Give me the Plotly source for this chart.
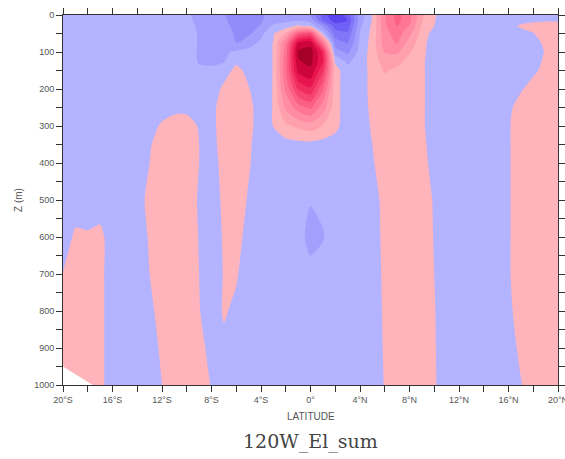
import plotly.graph_objects as go

# Latitude (deg, negative = south) and depth (m) of the section grid
lat = list(range(-20, 21))
depth = [0, 15, 30, 50, 75, 100, 125, 150, 175, 200, 250, 300, 350, 400,
         500, 600, 700, 800, 900, 1000]

# Anomaly field along 120W: one row per depth, one column per latitude (-20 .. 20)
anom = [
    # 0 m
    [-0.06, -0.06, -0.06, -0.06, -0.06, -0.06, -0.06, -0.06, -0.06, -0.06,
     -0.08, -0.14, -0.17, -0.19, -0.26, -0.27, -0.22, -0.15, -0.16, -0.15,
     -0.20,
     -0.45, -0.60, -0.45, -0.15, 0.005, 0.28, 0.44, 0.33, 0.12, 0.01,
     -0.05, -0.06, -0.06, -0.06, -0.06, -0.06, -0.05, -0.04, -0.03, -0.03],
    # 15 m
    [-0.06, -0.06, -0.06, -0.06, -0.06, -0.06, -0.06, -0.06, -0.06, -0.06,
     -0.07, -0.13, -0.15, -0.18, -0.25, -0.26, -0.21, -0.14, -0.12, -0.105,
     -0.14,
     -0.40, -0.55, -0.50, -0.15, 0.01, 0.29, 0.43, 0.33, 0.105, 0.005,
     -0.05, -0.06, -0.06, -0.06, -0.06, -0.06, -0.04, -0.02, -0.01, -0.01],
    # 30 m
    [-0.06, -0.06, -0.06, -0.06, -0.06, -0.06, -0.06, -0.06, -0.06, -0.06,
     -0.06, -0.12, -0.13, -0.16, -0.24, -0.25, -0.19, -0.08, -0.05, 0.02,
     -0.02,
     -0.205, -0.45, -0.45, -0.12, 0.02, 0.28, 0.40, 0.29, 0.09, 0.0,
     -0.05, -0.06, -0.06, -0.06, -0.06, -0.05, 0.02, 0.04, 0.05, 0.05],
    # 50 m
    [-0.06, -0.06, -0.06, -0.06, -0.06, -0.06, -0.06, -0.06, -0.06, -0.06,
     -0.05, -0.11, -0.12, -0.14, -0.22, -0.22, -0.13, -0.01, 0.11, 0.45,
     0.52,
     -0.04, -0.35, -0.38, -0.095, 0.03, 0.26, 0.35, 0.23, 0.06, -0.04,
     -0.06, -0.06, -0.06, -0.06, -0.06, -0.06, -0.05, -0.005, 0.05, 0.06],
    # 75 m
    [-0.06, -0.06, -0.06, -0.06, -0.06, -0.06, -0.06, -0.06, -0.06, -0.06,
     -0.05, -0.11, -0.12, -0.13, -0.205, -0.14, -0.08, 0.005, 0.31, 0.81,
     0.86,
     0.35, -0.25, -0.31, -0.08, 0.04, 0.25, 0.31, 0.16, 0.04, -0.06,
     -0.06, -0.06, -0.06, -0.06, -0.06, -0.06, -0.06, -0.05, 0.03, 0.06],
    # 100 m
    [-0.06, -0.06, -0.06, -0.06, -0.06, -0.06, -0.06, -0.06, -0.06, -0.06,
     -0.06, -0.11, -0.12, -0.12, -0.08, -0.07, -0.06, 0.005, 0.35, 0.92,
     0.95,
     0.68, -0.15, -0.22, -0.06, 0.04, 0.205, 0.22, 0.11, 0.03, -0.06,
     -0.06, -0.06, -0.06, -0.06, -0.06, -0.06, -0.06, -0.06, 0.01, 0.06],
    # 125 m
    [-0.06, -0.06, -0.06, -0.06, -0.06, -0.06, -0.06, -0.06, -0.06, -0.06,
     -0.05, -0.11, -0.12, -0.11, -0.02, -0.05, -0.06, 0.005, 0.38, 0.89,
     0.93,
     0.71, -0.02, -0.12, -0.05, 0.04, 0.15, 0.13, 0.07, 0.02, -0.06,
     -0.06, -0.06, -0.06, -0.06, -0.06, -0.06, -0.06, -0.04, 0.02, 0.06],
    # 150 m
    [-0.06, -0.06, -0.06, -0.06, -0.06, -0.06, -0.06, -0.06, -0.06, -0.06,
     -0.06, -0.08, -0.08, -0.05, 0.03, -0.03, -0.06, 0.005, 0.38, 0.83,
     0.88,
     0.62, 0.04, -0.06, -0.06, 0.04, 0.11, 0.08, 0.05, 0.02, -0.06,
     -0.06, -0.06, -0.06, -0.06, -0.06, -0.06, -0.06, -0.02, 0.03, 0.06],
    # 175 m
    [-0.06, -0.06, -0.06, -0.06, -0.06, -0.06, -0.06, -0.06, -0.06, -0.06,
     -0.06, -0.06, -0.06, -0.01, 0.05, -0.01, -0.06, 0.005, 0.36, 0.72,
     0.79,
     0.52, 0.04, -0.06, -0.06, 0.04, 0.08, 0.06, 0.05, 0.02, -0.06,
     -0.06, -0.06, -0.06, -0.06, -0.06, -0.06, -0.04, 0.01, 0.05, 0.06],
    # 200 m
    [-0.06, -0.06, -0.06, -0.06, -0.06, -0.06, -0.06, -0.06, -0.06, -0.06,
     -0.06, -0.06, -0.05, 0.02, 0.05, 0.005, -0.05, 0.005, 0.32, 0.61,
     0.68,
     0.42, 0.04, -0.06, -0.06, 0.04, 0.05, 0.05, 0.05, 0.02, -0.06,
     -0.06, -0.06, -0.06, -0.06, -0.06, -0.06, -0.01, 0.04, 0.05, 0.06],
    # 250 m
    [-0.06, -0.06, -0.06, -0.06, -0.06, -0.06, -0.06, -0.06, -0.06, -0.03,
     -0.03, -0.06, -0.03, 0.05, 0.06, 0.03, -0.05, 0.005, 0.22, 0.35,
     0.42,
     0.25, 0.04, -0.06, -0.06, 0.03, 0.05, 0.05, 0.05, 0.02, -0.06,
     -0.06, -0.06, -0.06, -0.06, -0.06, -0.02, 0.04, 0.05, 0.05, 0.06],
    # 300 m
    [-0.06, -0.06, -0.06, -0.06, -0.06, -0.06, -0.06, -0.05, 0.02, 0.05,
     0.05, -0.01, -0.03, 0.05, 0.06, 0.03, -0.05, 0.003, 0.08, 0.12,
     0.15,
     0.095, 0.03, -0.06, -0.06, 0.015, 0.05, 0.05, 0.05, 0.02, -0.06,
     -0.06, -0.06, -0.06, -0.06, -0.06, -0.01, 0.05, 0.05, 0.05, 0.06],
    # 350 m
    [-0.06, -0.06, -0.06, -0.06, -0.06, -0.06, -0.06, -0.01, 0.05, 0.06,
     0.06, 0.0, -0.04, 0.05, 0.06, 0.02, -0.06, -0.05, -0.04, -0.03,
     -0.03,
     -0.04, -0.05, -0.06, -0.06, 0.0, 0.05, 0.05, 0.05, 0.03, -0.05,
     -0.06, -0.06, -0.06, -0.06, -0.06, -0.01, 0.05, 0.05, 0.05, 0.06],
    # 400 m
    [-0.06, -0.06, -0.06, -0.06, -0.06, -0.06, -0.05, 0.0, 0.06, 0.06,
     0.06, 0.0, -0.05, 0.04, 0.06, 0.01, -0.05, -0.06, -0.06, -0.06,
     -0.06,
     -0.06, -0.06, -0.06, -0.06, -0.01, 0.05, 0.05, 0.05, 0.04, -0.04,
     -0.06, -0.06, -0.06, -0.06, -0.06, -0.01, 0.05, 0.05, 0.05, 0.06],
    # 500 m
    [-0.07, -0.09, -0.09, -0.08, -0.06, -0.06, -0.03, 0.02, 0.06, 0.06,
     0.05, -0.01, -0.05, 0.02, 0.05, -0.01, -0.06, -0.06, -0.06, -0.06,
     -0.095,
     -0.085, -0.06, -0.06, -0.06, -0.04, 0.03, 0.05, 0.05, 0.05, -0.01,
     -0.06, -0.06, -0.06, -0.06, -0.06, -0.01, 0.05, 0.05, 0.05, 0.06],
    # 600 m
    [-0.09, 0.03, 0.02, 0.04, -0.08, -0.06, -0.05, 0.01, 0.06, 0.06,
     0.06, -0.005, -0.05, 0.01, 0.04, -0.04, -0.06, -0.06, -0.06, -0.07,
     -0.125,
     -0.105, -0.06, -0.06, -0.06, -0.045, 0.025, 0.05, 0.05, 0.05, -0.005,
     -0.06, -0.06, -0.06, -0.06, -0.06, -0.01, 0.05, 0.05, 0.05, 0.06],
    # 700 m
    [0.005, 0.06, 0.06, 0.04, -0.08, -0.06, -0.05, 0.0, 0.06, 0.06,
     0.06, 0.0, -0.05, 0.005, 0.01, -0.05, -0.06, -0.06, -0.06, -0.06,
     -0.075,
     -0.07, -0.06, -0.06, -0.06, -0.05, 0.02, 0.05, 0.05, 0.05, 0.0,
     -0.06, -0.06, -0.06, -0.06, -0.06, -0.01, 0.05, 0.05, 0.05, 0.05],
    # 800 m
    [0.06, 0.06, 0.06, 0.04, -0.08, -0.06, -0.06, -0.03, 0.05, 0.06,
     0.06, 0.005, -0.05, 0.01, -0.02, -0.06, -0.06, -0.06, -0.06, -0.06,
     -0.06,
     -0.06, -0.06, -0.06, -0.06, -0.05, 0.015, 0.05, 0.05, 0.05, 0.005,
     -0.05, -0.06, -0.06, -0.06, -0.06, -0.02, 0.04, 0.05, 0.05, 0.05],
    # 900 m
    [0.06, 0.06, 0.06, 0.04, -0.08, -0.06, -0.06, -0.05, 0.02, 0.06,
     0.06, 0.03, -0.03, -0.02, -0.05, -0.06, -0.06, -0.06, -0.06, -0.06,
     -0.06,
     -0.06, -0.06, -0.06, -0.06, -0.05, 0.01, 0.05, 0.05, 0.05, 0.008,
     -0.05, -0.06, -0.06, -0.06, -0.06, -0.04, 0.02, 0.05, 0.05, 0.05],
    # 1000 m
    [0.06, 0.06, 0.06, 0.04, -0.08, -0.06, -0.06, -0.05, 0.0, 0.06,
     0.06, 0.04, -0.005, -0.05, -0.06, -0.06, -0.06, -0.06, -0.06, -0.06,
     -0.06,
     -0.06, -0.06, -0.06, -0.06, -0.05, 0.005, 0.05, 0.05, 0.05, 0.01,
     -0.05, -0.06, -0.06, -0.06, -0.06, -0.06, -0.005, 0.04, 0.05, 0.05],
]

# Sea floor cutting the lower-left corner of the section
floor_lat = [-20.0, -17.6]
floor_depth = [950, 1000]

# Contour levels and one fill colour per band (below -0.5 ... above 0.9)
level_start, level_end, level_step = -0.5, 0.9, 0.1
band_colors = [
    "rgb(92,70,240)", "rgb(112,96,245)", "rgb(130,118,248)", "rgb(146,140,250)",
    "rgb(162,160,252)", "rgb(179,179,255)",
    "rgb(255,179,186)", "rgb(255,160,175)", "rgb(255,140,162)", "rgb(255,118,148)",
    "rgb(252,95,132)", "rgb(248,70,115)", "rgb(240,45,95)", "rgb(232,20,78)",
    "rgb(205,5,58)", "rgb(165,0,40)",
]

# Axis ticks
lat_ticks = list(range(-20, 21, 2))
lat_labels = ["20°S", "", "16°S", "", "12°S", "", "8°S", "", "4°S", "", "0°",
              "", "4°N", "", "8°N", "", "12°N", "", "16°N", "", "20°N"]
depth_ticks = list(range(0, 1001, 50))
depth_labels = [str(d) if d % 100 == 0 else "" for d in depth_ticks]

# Step colour scale: band k is sampled near fraction k/n, so each colour
# holds over [k - 0.25, k + 0.75] / n
n = len(band_colors) - 1
colorscale = [[0.0, band_colors[0]]]
for k in range(n):
    edge = (k + 0.75) / n
    colorscale.append([edge, band_colors[k]])
    colorscale.append([edge, band_colors[k + 1]])
colorscale.append([1.0, band_colors[-1]])

fig = go.Figure()
fig.add_trace(go.Contour(
    x=lat, y=depth, z=anom,
    contours=dict(start=level_start, end=level_end, size=level_step,
                  coloring="fill", showlines=False),
    line=dict(width=0, smoothing=0.7),
    colorscale=colorscale,
    showscale=False,
    hoverinfo="skip",
))
fig.add_trace(go.Scatter(
    x=floor_lat + [floor_lat[0]],
    y=floor_depth + [floor_depth[-1]],
    mode="lines", fill="toself", fillcolor="white",
    line=dict(width=0, color="white"),
    hoverinfo="skip", showlegend=False,
))

axis_common = dict(
    showline=True, linecolor="#333", linewidth=1, mirror="ticks",
    ticks="outside", ticklen=6, tickwidth=1, tickcolor="#333",
    showgrid=False, zeroline=False, automargin=False,
    ticklabeloverflow="allow",
    tickfont=dict(family="Liberation Sans, Arial, sans-serif", size=9, color="#555"),
)
fig.update_xaxes(range=[-20, 20], tickmode="array", tickvals=lat_ticks,
                 ticktext=lat_labels, **axis_common)
fig.update_yaxes(range=[1000, 0], tickmode="array", tickvals=depth_ticks,
                 ticktext=depth_labels, **axis_common)

fig.update_layout(
    width=565, height=459,
    margin=dict(l=63, r=7, t=15, b=74, autoexpand=False),
    paper_bgcolor="white", plot_bgcolor="white",
    showlegend=False,
    annotations=[
        dict(text="LATITUDE", xref="paper", yref="paper", x=0.5, y=-0.086,
             showarrow=False, xanchor="center", yanchor="middle",
             font=dict(family="Liberation Sans, Arial, sans-serif", size=10, color="#555")),
        dict(text="Z (m)", xref="paper", yref="paper", x=-0.091, y=0.5,
             textangle=-90, showarrow=False, xanchor="center", yanchor="middle",
             font=dict(family="Liberation Sans, Arial, sans-serif", size=10, color="#555")),
        dict(text="120W_El_sum", xref="paper", yref="paper", x=0.5, y=-0.154,
             showarrow=False, xanchor="center", yanchor="middle",
             font=dict(family="DejaVu Serif, serif", size=19, color="#444")),
    ],
)

fig.write_html("out.html")
